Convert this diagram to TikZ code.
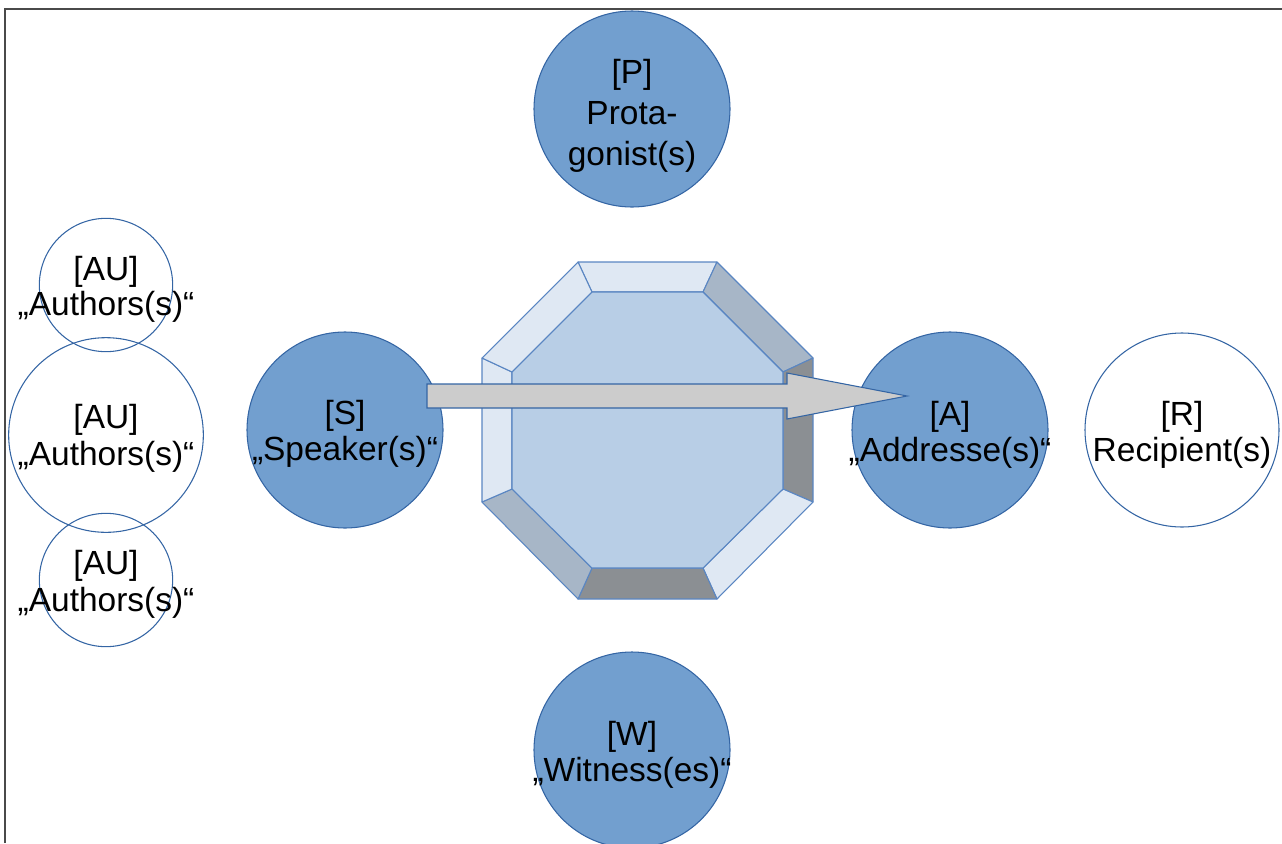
\documentclass[tikz,border=0pt]{standalone}
\usepackage{fontspec}
\setmainfont{Liberation Sans}
\usetikzlibrary{calc}
\definecolor{rolefill}{HTML}{729FCF}
\definecolor{roleedge}{HTML}{3465A4}
\definecolor{octedge}{HTML}{5A86C2}
\definecolor{octface}{HTML}{B8CEE6}
\definecolor{bevlight}{HTML}{DFE8F3}
\definecolor{bevmid}{HTML}{A7B6C7}
\definecolor{bevdark}{HTML}{8B8F93}
\definecolor{arrowfill}{HTML}{CCCCCC}
\definecolor{framegray}{HTML}{4A4A4A}
\begin{document}
\begin{tikzpicture}[x=0.75pt,y=-0.75pt,
  role/.style={circle,draw=roleedge,fill=rolefill,line width=0.8pt,inner sep=0pt,minimum size=147pt},
  outer/.style={circle,draw=roleedge,line width=0.8pt,inner sep=0pt},
  label/.style={align=center,text=black,inner sep=0pt,font=\fontsize{25.1pt}{27pt}\selectfont},
  bevel/.style={draw=octedge,line width=0.8pt,line join=round},
]
\lineskiplimit=-100pt
\useasboundingbox (0,0) rectangle (1282,843);

% page frame
\draw[framegray,line width=1.4pt] (5,843) -- (5,9) -- (1282,9);

% beveled octagon
\coordinate (o1) at (578,262); \coordinate (o2) at (717,262);
\coordinate (o3) at (813,358); \coordinate (o4) at (813,502);
\coordinate (o5) at (717,599); \coordinate (o6) at (578,599);
\coordinate (o7) at (482,502); \coordinate (o8) at (482,358);
\coordinate (i1) at (592,292); \coordinate (i2) at (703,292);
\coordinate (i3) at (783,372); \coordinate (i4) at (783,489);
\coordinate (i5) at (703,568); \coordinate (i6) at (592,568);
\coordinate (i7) at (512,489); \coordinate (i8) at (512,372);
\filldraw[bevel,fill=bevlight] (o1) -- (o2) -- (i2) -- (i1) -- cycle;
\filldraw[bevel,fill=bevmid]   (o2) -- (o3) -- (i3) -- (i2) -- cycle;
\filldraw[bevel,fill=bevdark]  (o3) -- (o4) -- (i4) -- (i3) -- cycle;
\filldraw[bevel,fill=bevlight] (o4) -- (o5) -- (i5) -- (i4) -- cycle;
\filldraw[bevel,fill=bevdark]  (o5) -- (o6) -- (i6) -- (i5) -- cycle;
\filldraw[bevel,fill=bevmid]   (o6) -- (o7) -- (i7) -- (i6) -- cycle;
\filldraw[bevel,fill=bevlight] (o7) -- (o8) -- (i8) -- (i7) -- cycle;
\filldraw[bevel,fill=bevlight] (o8) -- (o1) -- (i1) -- (i8) -- cycle;
\filldraw[bevel,fill=octface] (i1) -- (i2) -- (i3) -- (i4) -- (i5) -- (i6) -- (i7) -- (i8) -- cycle;

% roles
\node[role] (p) at (632,109) {};
\node[role] (s) at (345,430) {};
\node[role] (a) at (950,430) {};
\node[role] (w) at (632,750) {};
\node[outer,minimum size=145.5pt] (r) at (1182,430) {};
\node[outer,minimum size=100pt] (au1) at (106,285) {};
\node[outer,minimum size=146pt] (au2) at (106,435) {};
\node[outer,minimum size=100pt] (au3) at (106,580) {};

% block arrow from speaker to addressee
\coordinate (tail) at (427,396);
\coordinate (tip) at (907,396);
\filldraw[draw=roleedge,fill=arrowfill,line width=0.8pt,line join=miter]
  ($(tail)+(0,-12)$) -- ($(tip)+(-120,-12)$) -- ($(tip)+(-120,-23)$) -- (tip)
  -- ($(tip)+(-120,23)$) -- ($(tip)+(-120,12)$) -- ($(tail)+(0,12)$) -- cycle;

% texts
\node[label,font=\fontsize{25.1pt}{31pt}\selectfont] (pt) at ($(p)+(0,7)$) {[P]\\Prota-\\gonist(s)};
\node[label] (st) at ($(s)+(0,4)$) {[S]\\„Speaker(s)“};
\node[label] (at) at ($(a)+(0,4.5)$) {[A]\\„Addresse(s)“};
\node[label] (rt) at ($(r)+(0,4.5)$) {[R]\\Recipient(s)};
\node[label] (wt) at ($(w)+(0,4.5)$) {[W]\\„Witness(es)“};
\node[label,font=\fontsize{25.1pt}{26pt}\selectfont] (au1t) at ($(au1)+(0,4)$) {[AU]\\„Authors(s)“};
\node[label,font=\fontsize{25.1pt}{27.7pt}\selectfont] (au2t) at ($(au2)+(0,3)$) {[AU]\\„Authors(s)“};
\node[label,font=\fontsize{25.1pt}{27.7pt}\selectfont] (au3t) at ($(au3)+(0,4)$) {[AU]\\„Authors(s)“};
\end{tikzpicture}
\end{document}
